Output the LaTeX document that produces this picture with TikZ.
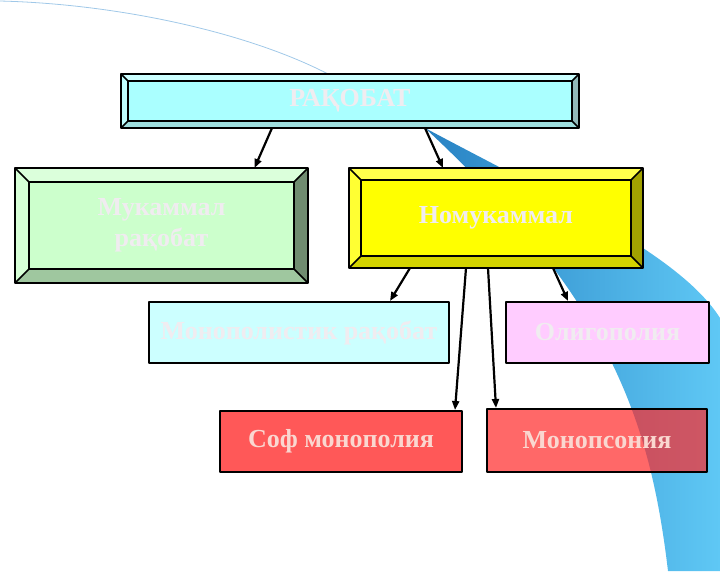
\documentclass[tikz,border=0pt]{standalone}
\usepackage{fontspec}
\setmainfont{Liberation Serif}
\usetikzlibrary{calc,arrows.meta}

\definecolor{swdark}{RGB}{40,130,195}
\definecolor{swlight}{RGB}{95,200,245}
\definecolor{arcblue}{RGB}{160,200,232}
\definecolor{topface}{RGB}{170,255,255}
\definecolor{grnface}{RGB}{204,255,204}
\definecolor{yelface}{RGB}{255,255,0}
\definecolor{mrakface}{RGB}{204,255,255}
\definecolor{oligface}{RGB}{255,204,255}
\definecolor{sofface}{RGB}{255,88,88}
\definecolor{mpsface}{RGB}{255,40,40}
\definecolor{paletxt}{RGB}{240,236,240}
\definecolor{redtxt}{RGB}{250,215,208}

\begin{document}
\begin{tikzpicture}[
  x=1pt,
  y=-1pt,
  line join=round,
  box/.style={draw=black,line width=2pt,minimum width=#1,
              inner sep=0pt,text=paletxt,align=center,
              font=\bfseries\fontsize{26}{31}\selectfont},
  arr/.style={line width=2.2pt,-{Triangle[length=9pt,width=7pt]}}
]

% ---------- frame ----------
\useasboundingbox (0,0) rectangle (720,571);

% ---------- background swoosh ----------
\draw[arcblue,line width=0.8pt] (0,1) .. controls (120,4) and (250,33) .. (330,75);
\shade[left color=swdark,right color=swlight]
  (425,128) .. controls (560,200) and (680,255) .. (720,318)
  -- (720,571) -- (668,571)
  .. controls (650,420) and (610,300) .. (425,128) -- cycle;

% ---------- boxes ----------
\node[box=456pt,minimum height=52pt,fill=topface] (top) at (350,101) {РАҚОБАТ};
\node[box=291pt,minimum height=113pt,fill=grnface] (grn) at (161.5,225.5)
  {Мукаммал\\рақобат};
\node[box=292pt,minimum height=98pt,fill=yelface] (yel) at (496,218) {Номукаммал};
\node[box=300pt,minimum height=61pt,fill=mrakface] (mrak) at (299,332.5)
  {Монополистик рақобат};
\node[box=203pt,minimum height=61pt,fill=oligface] (olig) at (607.5,332.5)
  {Олигополия};
\node[box=242pt,minimum height=61pt,fill=sofface,text=redtxt] (sof) at (341,441.5)
  {Соф монополия};
\node[box=220pt,minimum height=63pt,fill=mpsface,fill opacity=0.7,
      text opacity=1,text=redtxt] (mps) at (597,440.5) {Монопсония};

% ---------- bevels ----------
\foreach \n/\b/\lt/\lf/\rt/\bt in {%
  top/7/topface!60!white/topface!75!white/topface!45!gray/topface!75!gray,
  grn/14/grnface!70!white/grnface!80!white/grnface!55!black/grnface!78!black,
  yel/12/yelface!70!white/yelface!80!white/yelface!63!black/yelface!83!black}{
  \coordinate (\n o1) at (\n.north west);
  \coordinate (\n o2) at (\n.north east);
  \coordinate (\n o3) at (\n.south east);
  \coordinate (\n o4) at (\n.south west);
  \coordinate (\n i1) at ($(\n.north west)+(\b,\b)$);
  \coordinate (\n i2) at ($(\n.north east)+(-\b,\b)$);
  \coordinate (\n i3) at ($(\n.south east)+(-\b,-\b)$);
  \coordinate (\n i4) at ($(\n.south west)+(\b,-\b)$);
  \fill[\lt] (\n o1)--(\n o2)--(\n i2)--(\n i1)--cycle;
  \fill[\lf] (\n o1)--(\n i1)--(\n i4)--(\n o4)--cycle;
  \fill[\rt] (\n o2)--(\n o3)--(\n i3)--(\n i2)--cycle;
  \fill[\bt] (\n o4)--(\n i4)--(\n i3)--(\n o3)--cycle;
  \draw[line width=2pt] (\n o1)--(\n o2)--(\n o3)--(\n o4)--cycle;
  \draw[line width=2pt] (\n i1)--(\n i2)--(\n i3)--(\n i4)--cycle;
  \draw[line width=1.5pt] (\n o1)--(\n i1) (\n o2)--(\n i2)
                          (\n o3)--(\n i3) (\n o4)--(\n i4);
}

% ---------- arrows ----------
\draw[arr] ([xshift=-78]top.south) -- ([xshift=93]grn.north);
\draw[arr] ([xshift=75]top.south) -- ([xshift=-53]yel.north);
\draw[arr] ([xshift=-86]yel.south) -- ([xshift=91]mrak.north);
\draw[arr] ([xshift=-30]yel.south) -- ([xshift=114]sof.north);
\draw[arr] ([xshift=-8]yel.south) -- ([xshift=-101]mps.north);
\draw[arr] ([xshift=57]yel.south) -- ([xshift=-39.5]olig.north);

\end{tikzpicture}
\end{document}
